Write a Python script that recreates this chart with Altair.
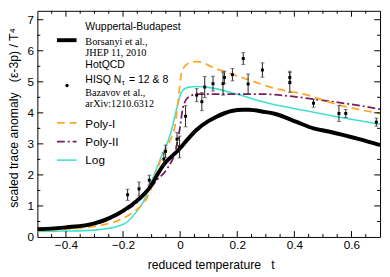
import altair as alt
import pandas as pd

# ---------------- data ----------------
wb_t = [-0.5, -0.4, -0.3, -0.25, -0.2, -0.15, -0.11, -0.06, 0.0, 0.02, 0.056, 0.1, 0.124, 0.18, 0.22, 0.24, 0.295, 0.33, 0.41, 0.467, 0.524, 0.627, 0.7]
wb_v = [0.25, 0.31, 0.44, 0.6, 0.84, 1.18, 1.55, 2.3, 2.86, 3.08, 3.44, 3.74, 3.86, 4.06, 4.1, 4.1, 4.03, 3.97, 3.7, 3.5, 3.39, 3.15, 2.96]

poly1_t = [-0.5, -0.4, -0.3, -0.2, -0.15, -0.12, -0.1, -0.07, -0.04, -0.019, -0.007, 0.006, 0.027, 0.06, 0.124, 0.238, 0.33, 0.433, 0.558, 0.7]
poly1_v = [0.2, 0.25, 0.34, 0.6, 0.9, 1.2, 1.6, 2.44, 3.02, 3.54, 4.38, 5.33, 5.59, 5.65, 5.43, 5.07, 4.79, 4.6, 4.25, 3.98]

poly2_t = [-0.5, -0.4, -0.3, -0.2, -0.15, -0.11, -0.08, -0.047, -0.013, -0.002, 0.01, 0.027, 0.061, 0.18, 0.3, 0.4, 0.467, 0.58, 0.7]
poly2_v = [0.22, 0.28, 0.4, 0.8, 1.12, 1.5, 1.85, 2.18, 2.91, 3.44, 4.17, 4.49, 4.6, 4.6, 4.6, 4.52, 4.44, 4.3, 4.12]

log_t = [-0.5, -0.4, -0.3, -0.2, -0.15, -0.12, -0.11, -0.07, -0.03, -0.013, 0.004, 0.027, 0.06, 0.1, 0.2, 0.3, 0.45, 0.558, 0.7]
log_v = [0.18, 0.19, 0.22, 0.4, 0.85, 1.3, 1.55, 2.5, 3.44, 4.1, 4.65, 4.82, 4.85, 4.82, 4.6, 4.33, 4.05, 3.86, 3.63]

hot_t = [-0.184, -0.144, -0.108, -0.057, -0.051, -0.011, -0.002, 0.019, 0.058, 0.076, 0.086, 0.115, 0.150, 0.155, 0.183, 0.221, 0.238, 0.288, 0.384, 0.384, 0.467, 0.556, 0.580, 0.687]
hot_v = [1.36, 1.55, 1.83, 2.51, 2.76, 3.15, 2.90, 3.89, 4.57, 4.36, 4.83, 4.94, 4.94, 5.14, 5.23, 5.75, 4.93, 5.38, 4.98, 5.14, 4.31, 3.98, 3.98, 3.70]
hot_err = [0.18, 0.22, 0.16, 0.2, 0.2, 0.22, 0.35, 0.34, 0.21, 0.29, 0.34, 0.24, 0.37, 0.2, 0.2, 0.19, 0.32, 0.23, 0.32, 0.2, 0.13, 0.26, 0.13, 0.13]

x_major = [-0.4, -0.2, 0.0, 0.2, 0.4, 0.6]
x_minor = [-0.45, -0.35, -0.3, -0.25, -0.15, -0.1, -0.05, 0.05, 0.1, 0.15, 0.25, 0.3, 0.35, 0.45, 0.5, 0.55, 0.65]
y_major = [1, 2, 3, 4, 5, 6, 7]
y_minor = [0.5, 1.5, 2.5, 3.5, 4.5, 5.5, 6.5]
y_labels = [0, 1, 2, 3, 4, 5, 6, 7]

# ---------------- layout ----------------
W, H = 350, 231
SANS = "Liberation Sans"
SERIF = "Liberation Serif"
NB = "\u00a0"

xs = alt.Scale(domain=[-0.5, 0.7], nice=False, zero=False)
ys = alt.Scale(domain=[0, 7.287], nice=False, zero=False)

xaxis = alt.Axis(values=x_major, labelExpr="datum.value == 0 ? '0' : format(datum.value, '.1f')",
                 title="reduced temperature" + NB * 3 + "t", titleX=W / 2 + 2, titleY=32.7,
                 titleBaseline="alphabetic", labelPadding=3)
yaxis = alt.Axis(values=y_labels, format="d",
                 title="scaled trace anomaly" + NB * 3 + "(ε-3p) / T⁴", titleX=-20, titleY=109,
                 titleBaseline="alphabetic", titleAngle=270, labelPadding=4)


def X(field):
    return alt.X(field, type="quantitative", scale=xs, axis=xaxis)


def Y(field):
    return alt.Y(field, type="quantitative", scale=ys, axis=yaxis)


def curve(t, v, color, width, dash=None):
    df = pd.DataFrame({"x": t, "y": v})
    kw = dict(color=color, strokeWidth=width, interpolate="monotone", clip=True)
    if dash:
        kw["strokeDash"] = dash
    return alt.Chart(df).mark_line(**kw).encode(x=X("x"), y=Y("y"))


c_orange = "#FFA726"
c_purple = "#7A1C5C"
c_cyan = "#40E0D0"

layers = []
layers.append(curve(log_t, log_v, c_cyan, 1.6))
layers.append(curve(poly2_t, poly2_v, c_purple, 1.8, [8, 3, 2, 3]))
layers.append(curve(poly1_t, poly1_v, c_orange, 1.8, [8, 5]))
layers.append(curve(wb_t, wb_v, "black", 4))

hot = pd.DataFrame({"x": hot_t, "y": hot_v,
                    "lo": [v - e for v, e in zip(hot_v, hot_err)],
                    "hi": [v + e for v, e in zip(hot_v, hot_err)]})
layers.append(alt.Chart(hot).mark_rule(color="#222", strokeWidth=1).encode(x=X("x"), y=Y("lo"), y2="hi"))
layers.append(alt.Chart(hot).mark_tick(color="#444", orient="horizontal", size=4, thickness=1).encode(x=X("x"), y=Y("lo")))
layers.append(alt.Chart(hot).mark_tick(color="#444", orient="horizontal", size=4, thickness=1).encode(x=X("x"), y=Y("hi")))
layers.append(alt.Chart(hot).mark_square(color="black", size=9, opacity=1).encode(x=X("x"), y=Y("y")))

# inward ticks on all four sides
xmaj = pd.DataFrame({"x": x_major})
xmin = pd.DataFrame({"x": x_minor})
ymaj = pd.DataFrame({"y": y_major})
ymin = pd.DataFrame({"y": y_minor})
for df, ln in ((xmaj, 6), (xmin, 3)):
    layers.append(alt.Chart(df).mark_rule(color="black").encode(x=X("x"), y=alt.value(H), y2=alt.value(H - ln)))
    layers.append(alt.Chart(df).mark_rule(color="black").encode(x=X("x"), y=alt.value(0), y2=alt.value(ln)))
for df, ln in ((ymaj, 6), (ymin, 3)):
    layers.append(alt.Chart(df).mark_rule(color="black").encode(y=Y("y"), x=alt.value(0), x2=alt.value(ln)))
    layers.append(alt.Chart(df).mark_rule(color="black").encode(y=Y("y"), x=alt.value(W), x2=alt.value(W - ln)))

# ---------------- legend ----------------
one = pd.DataFrame({"a": [0]})


def txt(s, x, y, font=SANS, size=10.7):
    return alt.Chart(one).mark_text(text=s, x=x, y=y, align="left", baseline="alphabetic",
                                    font=font, fontSize=size, color="black")


def sample(y, color, width, dash=None):
    kw = dict(color=color, strokeWidth=width)
    if dash:
        kw["strokeDash"] = dash
    return alt.Chart(one).mark_rule(**kw).encode(x=alt.value(20), x2=alt.value(40), y=alt.value(y))


TX = 49
layers += [
    sample(30, "black", 4),
    txt("Wuppertal-Budapest", TX, 20),
    txt("Borsanyi et al.,", TX, 34.5, SERIF, 10.5),
    txt("JHEP 11, 2010", TX, 46.5, SERIF, 10.5),
    alt.Chart(one).mark_circle(color="black", size=12, opacity=1).encode(x=alt.value(30.3), y=alt.value(76.3)),
    txt("HotQCD", TX, 58.5),
    txt("HISQ N", TX, 74),
    txt("τ", TX + 37.2, 75.3, SANS, 7.5),
    txt("= 12 & 8", TX + 44.5, 74),
    txt("Bazavov et al.,", TX, 86.5, SERIF, 10.3),
    txt("arXiv:1210.6312", TX, 98.5, SERIF, 10.3),
    sample(114.5, c_orange, 1.8, [8, 5]),
    txt("Poly-I", TX, 120, SANS, 12),
    sample(133.7, c_purple, 1.8, [8, 3, 2, 3]),
    txt("Poly-II", TX, 138, SANS, 12),
    sample(152.5, c_cyan, 1.6),
    txt("Log", TX, 156, SANS, 12),
]

chart = alt.layer(*layers).properties(
    width=W, height=H,
    autosize=alt.AutoSizeParams(type="none"),
    padding={"left": 30, "top": 0, "right": 2, "bottom": 38},
).configure_view(stroke="black", strokeWidth=1).configure_axis(
    labelFont=SANS, labelFontSize=12, labelColor="black",
    titleFont=SANS, titleFontSize=12.5, titleFontWeight="normal", titleColor="black",
    ticks=False, domain=False, grid=False,
)

chart.save("out.html", embed_options={"renderer": "svg", "actions": False})
